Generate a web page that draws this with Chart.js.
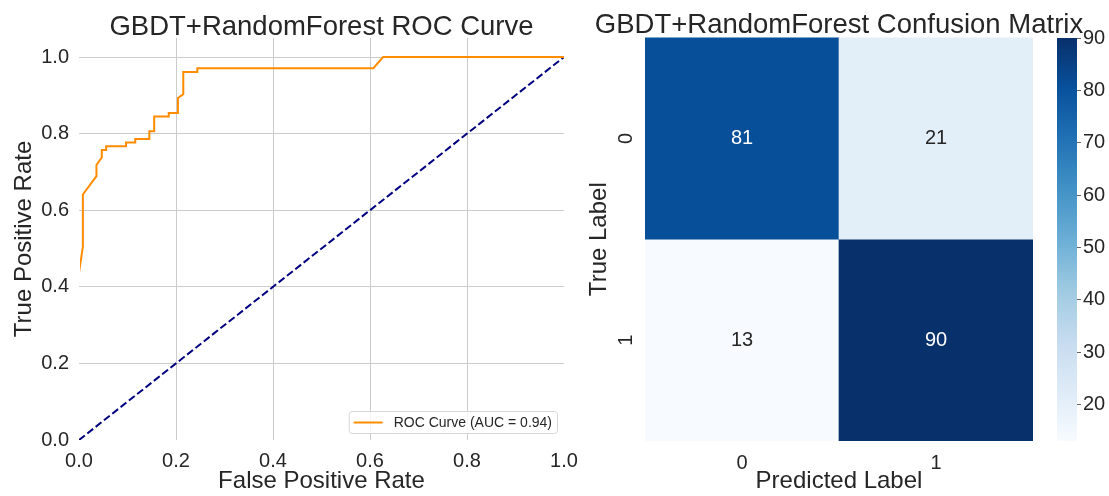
<!DOCTYPE html>
<html lang="en">
<head>
<meta charset="UTF-8">
<title>GBDT+RandomForest ROC Curve and Confusion Matrix</title>
<script src="https://cdn.jsdelivr.net/npm/chart.js"></script>
<style>
  body { margin: 0; background: #fff; }
  #wrap { position: relative; width: 1109px; height: 496px; }
  canvas { position: absolute; top: 0; }
</style>
</head>
<body>
<div id="wrap">
  <canvas id="roc" width="643" height="496" style="left:0px"></canvas>
  <canvas id="cm" width="518" height="496" style="left:580px"></canvas>
  <canvas id="cbar" width="64" height="496" style="left:1045px"></canvas>
</div>
<script>
// ROC curve, points
var fpr = [0, 0, 0.008, 0.008, 0.036, 0.036, 0.047, 0.047, 0.056, 0.056, 0.097, 0.097, 0.116, 0.116,
           0.145, 0.145, 0.155, 0.155, 0.185, 0.185, 0.204, 0.204, 0.215, 0.215, 0.244, 0.244, 0.607, 0.627, 1.0];
var tpr = [0, 0.437, 0.505, 0.641, 0.689, 0.718, 0.738, 0.757, 0.757, 0.767, 0.767, 0.777, 0.777, 0.786,
           0.786, 0.806, 0.806, 0.845, 0.845, 0.854, 0.854, 0.893, 0.903, 0.961, 0.961, 0.971, 0.971, 1.0, 1.0];
var rocLabel = 'ROC Curve (AUC = 0.94)';
var chanceX = [0, 1];
var chanceY = [0, 1];
var rocTicks = [0, 0.2, 0.4, 0.6, 0.8, 1.0];

// confusion matrix
var predLabels = ['0', '1'];
var trueLabels = ['0', '1'];
var cmRow0 = [81, 21];
var cmRow1 = [13, 90];
var cbarTicks = [20, 30, 40, 50, 60, 70, 80, 90];

var FONT = "'Liberation Sans', Arial, sans-serif";
var TEXT = '#262626';
Chart.defaults.font.family = FONT;
Chart.defaults.color = TEXT;

// matplotlib "Blues"
var bluesStops = ['#f7fbff', '#deebf7', '#c6dbef', '#9ecae1', '#6baed6', '#4292c6', '#2171b5', '#08519c', '#08306b'];
function hexRgb(h) {
    return [parseInt(h.substr(1, 2), 16), parseInt(h.substr(3, 2), 16), parseInt(h.substr(5, 2), 16)];
}
function bluesRgb(t) {
    t = Math.max(0, Math.min(1, t));
    var p = t * (bluesStops.length - 1), i = Math.min(Math.floor(p), bluesStops.length - 2), f = p - i;
    var a = hexRgb(bluesStops[i]), b = hexRgb(bluesStops[i + 1]);
    return [0, 1, 2].map(function (k) { return Math.round(a[k] + (b[k] - a[k]) * f); });
}
function rgbStr(c) { return 'rgb(' + c.join(',') + ')'; }
function luminance(c) {
    var l = c.map(function (v) { v /= 255; return v <= 0.03928 ? v / 12.92 : Math.pow((v + 0.055) / 1.055, 2.4); });
    return 0.2126 * l[0] + 0.7152 * l[1] + 0.0722 * l[2];
}

var cmRows = [cmRow0, cmRow1];
var allVals = cmRow0.concat(cmRow1);
var vmin = Math.min.apply(null, allVals);
var vmax = Math.max.apply(null, allVals);

function fixedTicks(list) {
    return function (axis) { axis.ticks = list.map(function (v) { return { value: v }; }); };
}
function spacer(w) {
    return { position: 'right', display: true, ticks: { display: false }, grid: { display: false },
             border: { display: false }, afterFit: function (s) { s.width = w; } };
}

// ---- ROC chart ----
var rocLegend = {
    id: 'rocLegend',
    afterDraw: function (chart) {
        var ctx = chart.ctx, a = chart.chartArea, ds = chart.data.datasets[0];
        ctx.save();
        ctx.font = '14px ' + FONT;
        var tw = ctx.measureText(ds.label).width;
        var w = 45 + tw + 5, h = 22;
        var x = a.right - 7 - w, y = a.bottom - 7 - h;
        ctx.beginPath();
        ctx.roundRect(x + 0.5, y + 0.5, w, h, 3);
        ctx.fillStyle = 'rgba(255,255,255,0.8)';
        ctx.fill();
        ctx.strokeStyle = '#d6d6d6';
        ctx.lineWidth = 1;
        ctx.stroke();
        ctx.beginPath();
        ctx.moveTo(x + 5, y + h / 2 + 0.5);
        ctx.lineTo(x + 34, y + h / 2 + 0.5);
        ctx.strokeStyle = ds.borderColor;
        ctx.lineWidth = 2;
        ctx.stroke();
        ctx.fillStyle = TEXT;
        ctx.textBaseline = 'middle';
        ctx.fillText(ds.label, x + 45, y + h / 2 + 1);
        ctx.restore();
    }
};

function gridColor(hidden) {
    return function (c) {
        return (c.tick && hidden.indexOf(c.tick.value) >= 0) ? 'rgba(0,0,0,0)' : '#cccccc';
    };
}

new Chart(document.getElementById('roc'), {
    type: 'scatter',
    data: {
        datasets: [{
            label: rocLabel,
            data: fpr.map(function (x, i) { return { x: x, y: tpr[i] }; }),
            showLine: true,
            borderColor: '#ff8c00',
            borderWidth: 2,
            pointRadius: 0,
            clip: { left: -1, top: 3, right: 3, bottom: 3 }
        }, {
            label: 'chance',
            data: chanceX.map(function (x, i) { return { x: x, y: chanceY[i] }; }),
            showLine: true,
            borderColor: '#000080',
            borderWidth: 2,
            borderDash: [7.4, 3.2],
            pointRadius: 0
        }]
    },
    options: {
        responsive: false,
        animation: false,
        plugins: {
            legend: { display: false },
            tooltip: { enabled: false },
            title: {
                display: true,
                text: 'GBDT+RandomForest ROC Curve',
                color: TEXT,
                font: { size: 27.5, weight: 'normal', lineHeight: 0.76 },
                padding: { top: 17, bottom: 0 }
            }
        },
        scales: {
            x: {
                type: 'linear', min: 0, max: 1,
                afterBuildTicks: fixedTicks(rocTicks),
                afterFit: function (s) { s.height = 56; },
                ticks: { font: { size: 20 }, padding: 9, callback: function (v) { return v.toFixed(1); } },
                grid: { drawTicks: false, color: gridColor([0, 1]) },
                border: { display: false },
                title: { display: true, text: 'False Positive Rate', font: { size: 24 }, padding: { top: 0, bottom: 0 } }
            },
            y: {
                type: 'linear', min: 0, max: 1.05,
                afterBuildTicks: fixedTicks(rocTicks),
                afterFit: function (s) { s.width = 79; },
                ticks: { font: { size: 20 }, padding: 10, callback: function (v) { return v.toFixed(1); } },
                grid: { drawTicks: false, color: gridColor([0]) },
                border: { display: false },
                title: { display: true, text: 'True Positive Rate', font: { size: 24 }, padding: { top: 10, bottom: 0 } }
            },
            yr: spacer(79)
        }
    },
    plugins: [rocLegend]
});

// ---- confusion matrix ----
var cellLabels = {
    id: 'cellLabels',
    afterDatasetsDraw: function (chart) {
        var ctx = chart.ctx;
        ctx.save();
        ctx.font = '20px ' + FONT;
        ctx.textAlign = 'center';
        ctx.textBaseline = 'middle';
        chart.data.datasets.forEach(function (ds, r) {
            chart.getDatasetMeta(r).data.forEach(function (el, i) {
                var v = ds.values[i];
                var c = bluesRgb((v - vmin) / (vmax - vmin));
                ctx.fillStyle = luminance(c) > 0.408 ? TEXT : '#ffffff';
                ctx.fillText(String(v), el.x, (el.y + el.base) / 2);
            });
        });
        // row labels, rotated like the picture
        var ys = chart.scales.y, a = chart.chartArea;
        trueLabels.forEach(function (t, r) {
            ctx.save();
            ctx.translate(a.left - 13, ys.getPixelForValue(r + 0.5));
            ctx.rotate(-Math.PI / 2);
            ctx.fillStyle = TEXT;
            ctx.textBaseline = 'alphabetic';
            ctx.fillText(t, 0, 0);
            ctx.restore();
        });
        ctx.restore();
    }
};

new Chart(document.getElementById('cm'), {
    type: 'bar',
    data: {
        labels: predLabels,
        datasets: trueLabels.map(function (t, r) {
            var row = cmRows[r];
            return {
                label: 'True ' + t,
                data: row.map(function () { return [r, r + 1]; }),
                values: row,
                backgroundColor: row.map(function (v) { return rgbStr(bluesRgb((v - vmin) / (vmax - vmin))); }),
                borderWidth: 0,
                barPercentage: 1,
                categoryPercentage: 1,
                grouped: false
            };
        })
    },
    options: {
        responsive: false,
        animation: false,
        plugins: {
            legend: { display: false },
            tooltip: { enabled: false },
            title: {
                display: true,
                text: 'GBDT+RandomForest Confusion Matrix',
                color: TEXT,
                font: { size: 27.5, weight: 'normal', lineHeight: 0.87 },
                padding: { top: 13.5, bottom: 0 }
            }
        },
        scales: {
            x: {
                afterFit: function (s) { s.height = 55; },
                ticks: { font: { size: 20 }, padding: 10 },
                grid: { display: false, drawTicks: false },
                border: { display: false },
                title: { display: true, text: 'Predicted Label', font: { size: 24 }, padding: { top: 0, bottom: 0 } }
            },
            y: {
                type: 'linear', min: 0, max: trueLabels.length, reverse: true,
                afterFit: function (s) { s.width = 65; },
                ticks: { display: false },
                grid: { display: false, drawTicks: false },
                border: { display: false },
                title: { display: true, text: 'True Label', font: { size: 24 }, padding: { top: 5, bottom: 0 } }
            },
            yr: spacer(65)
        }
    },
    plugins: [cellLabels]
});

// ---- colour bar ----
new Chart(document.getElementById('cbar'), {
    type: 'bar',
    data: {
        labels: [''],
        datasets: [{
            data: [[vmin, vmax]],
            backgroundColor: function (c) {
                var ch = c.chart;
                if (!ch.chartArea) return null;
                var ys = ch.scales.y;
                var g = ch.ctx.createLinearGradient(0, ys.getPixelForValue(vmin), 0, ys.getPixelForValue(vmax));
                bluesStops.forEach(function (s, i) { g.addColorStop(i / (bluesStops.length - 1), s); });
                return g;
            },
            borderWidth: 0,
            barPercentage: 1,
            categoryPercentage: 1
        }]
    },
    options: {
        responsive: false,
        animation: false,
        layout: { padding: { left: 12, top: 38, bottom: 55, right: 0 } },
        plugins: { legend: { display: false }, tooltip: { enabled: false } },
        scales: {
            x: { display: false },
            y: {
                position: 'right', min: vmin, max: vmax,
                afterBuildTicks: fixedTicks(cbarTicks),
                afterFit: function (s) { s.width = 32; },
                ticks: { font: { size: 20 }, padding: 2 },
                grid: { drawOnChartArea: false, tickLength: 4, color: '#666666' },
                border: { display: false }
            }
        }
    }
});
</script>
</body>
</html>
